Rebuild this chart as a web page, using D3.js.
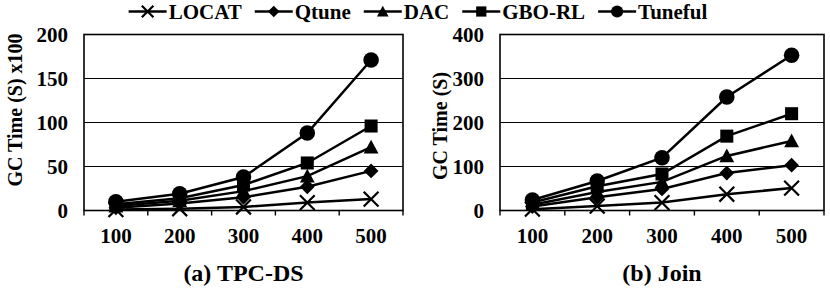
<!DOCTYPE html>
<html lang="en">
<head>
<meta charset="UTF-8">
<title>GC Time</title>
<style>
  body { margin: 0; background: #fff; }
  svg { display: block; }
  text { font-family: "Liberation Serif", "Times New Roman", serif; font-weight: bold; fill: #000; }
</style>
</head>
<body>
<div id="chart"></div>
<script src="https://d3js.org/d3.v7.min.js"></script>
<script>
// data
const categories = [100, 200, 300, 400, 500];
const seriesNames = ["LOCAT", "Qtune", "DAC", "GBO-RL", "Tuneful"];

const tpcdsLOCAT   = [1, 2, 4, 9, 13];
const tpcdsQtune   = [3, 8, 15, 27, 45];
const tpcdsDAC     = [5, 11, 22, 39, 72];
const tpcdsGBORL   = [7, 14, 29, 54, 96];
const tpcdsTuneful = [10, 19, 38, 88, 171];

const joinLOCAT   = [3, 10, 18, 37, 51];
const joinQtune   = [9, 30, 49, 85, 103];
const joinDAC     = [13, 42, 65, 124, 158];
const joinGBORL   = [18, 55, 83, 169, 220];
const joinTuneful = [24, 67, 120, 258, 353];

const tpcdsTicks = [0, 50, 100, 150, 200];
const joinTicks = [0, 100, 200, 300, 400];

const width = 830, height = 289;

const svg = d3.select('#chart').append('svg')
    .attr('width', width)
    .attr('height', height);

// marker shapes, drawn centred on 0,0
function drawMarker(g, name, s) {
  if (name === 'LOCAT') {
    g.append('path')
      .attr('d', `M${-s},${-s}L${s},${s}M${-s},${s}L${s},${-s}`)
      .attr('stroke', '#000').attr('stroke-width', 2.2).attr('fill', 'none');
  } else if (name === 'Qtune') {
    g.append('path')
      .attr('d', `M0,${-s}L${s},0L0,${s}L${-s},0Z`).attr('fill', '#000');
  } else if (name === 'DAC') {
    g.append('path')
      .attr('d', `M0,${-s}L${s},${s * 0.85}L${-s},${s * 0.85}Z`).attr('fill', '#000');
  } else if (name === 'GBO-RL') {
    const h = s * 0.88;
    g.append('rect').attr('x', -h).attr('y', -h).attr('width', 2 * h).attr('height', 2 * h).attr('fill', '#000');
  } else {
    g.append('circle').attr('r', s * 1.05).attr('fill', '#000');
  }
}

const panels = [
  { left: 84, right: 403, ticks: tpcdsTicks, max: 200, title: 'GC Time (S) x100', titleX: 15, titleY: 110,
    caption: '(a) TPC-DS',
    series: [tpcdsLOCAT, tpcdsQtune, tpcdsDAC, tpcdsGBORL, tpcdsTuneful] },
  { left: 500, right: 824, ticks: joinTicks, max: 400, title: 'GC Time (S)', titleX: 440, titleY: 126,
    caption: '(b) Join',
    series: [joinLOCAT, joinQtune, joinDAC, joinGBORL, joinTuneful] }
];

const plotTop = 34.5, plotBottom = 210.5;

panels.forEach(p => {
  const g = svg.append('g');
  const x = d3.scaleBand().domain(categories).range([p.left, p.right]);
  const y = d3.scaleLinear().domain([0, p.max]).range([plotBottom, plotTop]);

  // gridlines
  g.selectAll('.grid').data(p.ticks.slice(1, -1)).enter().append('line')
    .attr('x1', p.left).attr('x2', p.right)
    .attr('y1', d => y(d)).attr('y2', d => y(d))
    .attr('stroke', '#000').attr('stroke-width', 1.2);

  // plot frame
  g.append('rect').attr('x', p.left).attr('y', plotTop)
    .attr('width', p.right - p.left).attr('height', plotBottom - plotTop)
    .attr('fill', 'none').attr('stroke', '#000').attr('stroke-width', 1.6);

  // x axis tick marks on category boundaries
  const bounds = categories.map(c => x(c)).concat([p.right]);
  g.selectAll('.xt').data(bounds).enter().append('line')
    .attr('x1', d => d).attr('x2', d => d)
    .attr('y1', plotBottom).attr('y2', plotBottom + 5)
    .attr('stroke', '#000').attr('stroke-width', 1.4);

  // y tick labels
  g.selectAll('.yl').data(p.ticks).enter().append('text')
    .attr('x', p.left - 16).attr('y', d => y(d) + 7)
    .attr('text-anchor', 'end').style('font-size', '21px')
    .text(d => d);

  // x tick labels
  g.selectAll('.xl').data(categories).enter().append('text')
    .attr('x', d => x(d) + x.bandwidth() / 2).attr('y', 243)
    .attr('text-anchor', 'middle').style('font-size', '21px')
    .text(d => d);

  // axis title
  g.append('text')
    .attr('transform', `translate(${p.titleX + 7},${p.titleY}) rotate(-90)`)
    .attr('text-anchor', 'middle').style('font-size', '20px')
    .text(p.title);

  // caption
  g.append('text')
    .attr('x', (p.left + p.right) / 2).attr('y', 281)
    .attr('text-anchor', 'middle').style('font-size', '24px')
    .text(p.caption);

  // lines and markers
  const line = d3.line()
    .x((d, i) => x(categories[i]) + x.bandwidth() / 2)
    .y(d => y(d));

  p.series.forEach((vals, si) => {
    const sg = g.append('g');
    sg.append('path').datum(vals)
      .attr('d', line)
      .attr('fill', 'none').attr('stroke', '#000').attr('stroke-width', 2.5);
    vals.forEach((v, i) => {
      const mg = sg.append('g')
        .attr('transform', `translate(${x(categories[i]) + x.bandwidth() / 2},${y(v)})`);
      drawMarker(mg, seriesNames[si], 7.4);
    });
  });
});

// legend
const legend = svg.append('g');
let lx = 0;
seriesNames.forEach(name => {
  const item = legend.append('g').attr('transform', `translate(${lx},0)`);
  item.append('line').attr('x1', 0).attr('x2', 38).attr('y1', 11.5).attr('y2', 11.5)
    .attr('stroke', '#000').attr('stroke-width', 2.5);
  const mg = item.append('g').attr('transform', 'translate(19,11.5)');
  drawMarker(mg, name, 5.8);
  const t = item.append('text').attr('x', 40).attr('y', 18.5)
    .style('font-size', '21px').text(name);
  lx += 40 + t.node().getComputedTextLength() + 13;
});
const legendWidth = lx - 13;
legend.attr('transform', `translate(${418 - legendWidth / 2},0)`);
</script>
</body>
</html>
